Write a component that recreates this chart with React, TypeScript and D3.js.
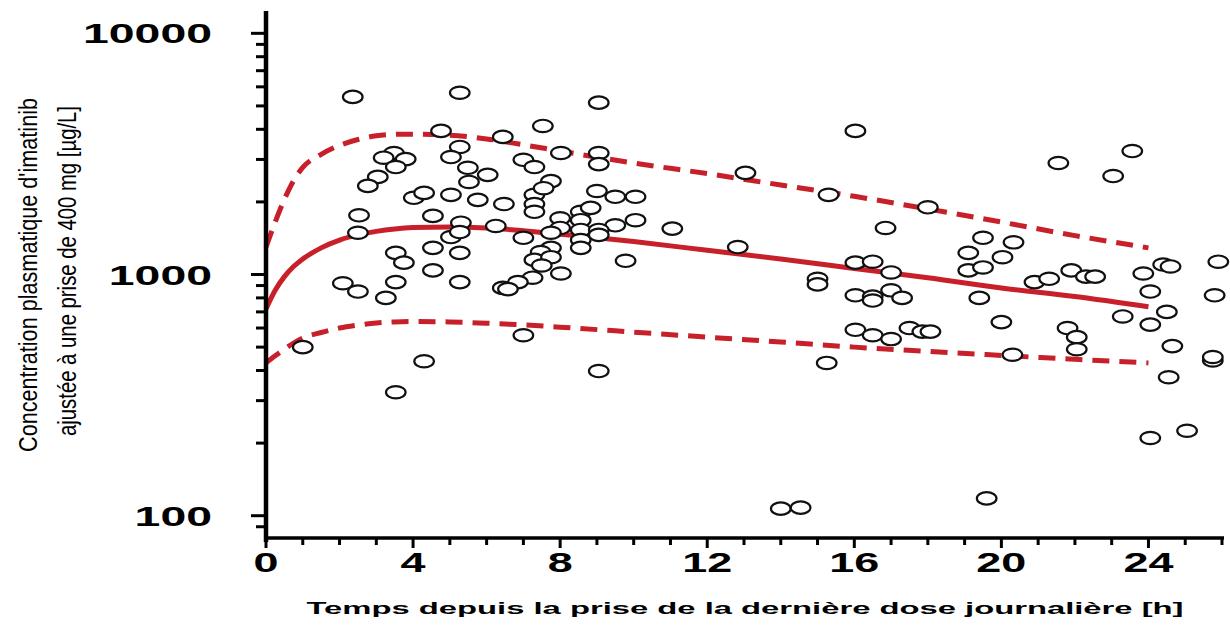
import React from 'react';
import * as d3 from 'd3';

// Observed concentrations: time after last dose [h] and concentration [µg/L]
const obsTime = [
  2.36, 5.27, 4.76, 6.44, 5.27, 5.03, 3.48, 3.2, 3.8, 3.53, 3.04, 2.77, 5.49, 5.52, 6.03, 4.02, 4.3, 5.03, 5.76, 6.47,
  2.53, 4.54, 5.3, 6.25, 2.5, 5.03, 5.27, 3.53, 4.54, 5.27, 3.75, 4.54, 2.09, 2.5, 3.53, 5.27, 3.26, 6.44, 1.0, 4.3, 3.53,
  9.05, 7.53, 8.02, 9.05, 9.05, 7.0, 7.3, 7.75, 7.3, 7.3, 7.3, 7.55, 9.0, 9.5, 10.05, 10.05, 9.5, 8.56, 8.0, 8.56, 8.83,
  8.0, 8.56, 9.05, 8.56, 9.05, 7.0, 7.75, 11.05, 7.75, 8.56, 7.47, 7.3, 7.75, 9.78, 12.83, 8.02, 7.25, 6.85, 6.58, 7.0,
  9.05, 7.5,
  16.03, 13.04, 15.3, 18.0, 16.85, 19.5, 19.1, 16.03, 16.5, 17.0, 15.0, 15.0, 19.1, 19.5, 16.03, 16.5, 16.5, 17.0, 17.3,
  19.4, 16.03, 16.5, 17.0, 17.5, 17.85, 18.07, 15.25, 14.0, 14.54, 19.6,
  21.55, 23.56, 23.04, 20.33, 20.03, 20.9, 21.3, 21.9, 22.3, 22.55, 23.86, 24.4, 24.6, 25.9, 24.05, 25.8, 20.0, 23.3,
  24.05, 24.5, 21.8, 22.05, 22.05, 20.3, 24.65, 25.75, 25.75, 24.55, 24.05, 25.05,
];
const obsConc = [
  5450, 5670, 3940, 3720, 3380, 3070, 3190, 3050, 3010, 2790, 2540, 2330, 2770, 2420, 2590, 2080, 2180, 2140, 2040, 1960,
  1760, 1750, 1640, 1590, 1490, 1430, 1500, 1230, 1290, 1230, 1120, 1040, 920, 850, 930, 930, 800, 880, 500, 437, 325,
  5160, 4130, 3190, 3190, 2870, 2990, 2790, 2440, 2140, 1960, 1820, 2280, 2220, 2100, 2100, 1680, 1600, 1820, 1710, 1680, 1890,
  1560, 1530, 1530, 1390, 1460, 1420, 1490, 1550, 1290, 1290, 1240, 1150, 1180, 1140, 1300, 1010, 970, 930, 870, 560,
  398, 1090,
  3940, 2640, 2140, 1900, 1560, 1420, 1230, 1120, 1130, 1020, 960, 910, 1040, 1070, 820, 810, 780, 860, 800,
  800, 590, 560, 540, 600, 580, 580, 430, 107, 108, 118,
  2900, 3250, 2560, 1360, 1180, 930, 960, 1040, 980, 980, 1010, 1100, 1080, 1130, 850, 820, 635, 670,
  620, 700, 600, 550, 490, 465, 505, 440, 455, 375, 210, 225,
];

// Population model curve (median) and prediction interval
const curveTime = [0, 0.25, 0.5, 0.75, 1, 1.5, 2, 2.5, 3, 3.5, 4, 5, 6, 7, 8, 10, 12, 14, 16, 18, 20, 22, 24];
const medianConc = [720, 860, 980, 1080, 1160, 1290, 1390, 1460, 1510, 1545, 1565, 1575, 1560, 1520, 1470, 1370, 1260, 1160, 1060, 970, 880, 810, 735];
const upperConc = [1300, 1650, 2050, 2450, 2780, 3150, 3430, 3630, 3760, 3810, 3820, 3780, 3650, 3450, 3250, 2900, 2620, 2350, 2110, 1870, 1650, 1450, 1290];
const lowerConc = [430, 460, 490, 520, 545, 575, 600, 617, 630, 636, 638, 636, 628, 618, 605, 577, 550, 525, 500, 480, 462, 445, 430];

const xTickLabels = [0, 4, 8, 12, 16, 20, 24];
const yTickLabels = [100, 1000, 10000];
const yTitleLines = ["Concentration plasmatique d'imatinib", 'ajustée à une prise de 400 mg [µg/L]'];
const xTitle = 'Temps depuis la prise de la dernière dose journalière [h]';

const RED = '#c8202a';

export default function App() {
  const W = 1230;
  const H = 628;
  const x = d3.scaleLinear().domain([0, 26]).range([266, 1222]);
  const y = d3.scaleLog().domain([82, 12200]).range([536.5, 12.5]);

  const mk = (vals: number[]) =>
    d3
      .line<number>()
      .x((_, i) => x(curveTime[i]))
      .y((d) => y(d))
      .curve(d3.curveMonotoneX)(vals) as string;

  const yTicks = y.ticks();
  const xTicks = d3.range(0, 27, 1);
  const axisY = 538;
  const x0 = x(0);

  return (
    <svg
      width={W}
      height={H}
      style={{ position: 'absolute', left: 0, top: 0, background: '#fff' }}
      fontFamily="'Liberation Sans', Arial, sans-serif"
    >
      <rect x={0} y={0} width={W} height={H} fill="#fff" />

      {/* model curves */}
      <path d={mk(upperConc)} fill="none" stroke={RED} strokeWidth={5} strokeDasharray="17 10" />
      <path d={mk(lowerConc)} fill="none" stroke={RED} strokeWidth={5} strokeDasharray="17 10" />
      <path d={mk(medianConc)} fill="none" stroke={RED} strokeWidth={5} />

      {/* observations */}
      <g>
        {obsTime.map((t, i) => (
          <ellipse
            key={i}
            cx={x(t)}
            cy={y(obsConc[i])}
            rx={9.8}
            ry={6.2}
            fill="#fff"
            stroke="#111"
            strokeWidth={2.2}
          />
        ))}
      </g>

      {/* y axis */}
      <line x1={x0} x2={x0} y1={11} y2={542} stroke="#000" strokeWidth={4.5} />
      {yTicks.map((v, i) => {
        const major = yTickLabels.includes(v);
        return (
          <line
            key={i}
            x1={x0 - (major ? 15 : 10)}
            x2={x0}
            y1={y(v)}
            y2={y(v)}
            stroke="#000"
            strokeWidth={3}
          />
        );
      })}
      {yTickLabels.map((v) => (
        <text
          key={v}
          x={212}
          y={y(v)}
          dy="0.36em"
          textAnchor="end"
          fontSize={28}
          fontWeight="bold"
          textLength={String(v).length * 25.8}
          lengthAdjust="spacingAndGlyphs"
        >
          {v}
        </text>
      ))}

      {/* x axis */}
      <line x1={x0 - 2} x2={1224} y1={axisY} y2={axisY} stroke="#000" strokeWidth={3.5} />
      {xTicks.map((t) => {
        const major = t % 4 === 0;
        return (
          <line
            key={t}
            x1={x(t)}
            x2={x(t)}
            y1={axisY}
            y2={axisY + (major ? 10 : 7)}
            stroke="#000"
            strokeWidth={3}
          />
        );
      })}
      {xTickLabels.map((t) => (
        <text
          key={t}
          x={x(t)}
          y={572}
          textAnchor="middle"
          fontSize={27}
          fontWeight="bold"
          textLength={String(t).length * 25}
          lengthAdjust="spacingAndGlyphs"
        >
          {t}
        </text>
      ))}

      {/* axis titles */}
      <text
        x={745}
        y={614}
        textAnchor="middle"
        fontSize={17}
        fontWeight="bold"
        textLength={877}
        lengthAdjust="spacingAndGlyphs"
      >
        {xTitle}
      </text>
      {yTitleLines.map((s, i) => (
        <text
          key={i}
          transform={`translate(${i === 0 ? 28 : 67},${i === 0 ? 275 : 271}) rotate(-90) scale(1,1.65)`}
          textAnchor="middle"
          dy="0.35em"
          fontSize={16}
          fontFamily="'Liberation Sans Narrow', 'Liberation Sans', Arial, sans-serif"
          textLength={i === 0 ? 354 : 330}
          lengthAdjust="spacingAndGlyphs"
        >
          {s}
        </text>
      ))}
    </svg>
  );
}
